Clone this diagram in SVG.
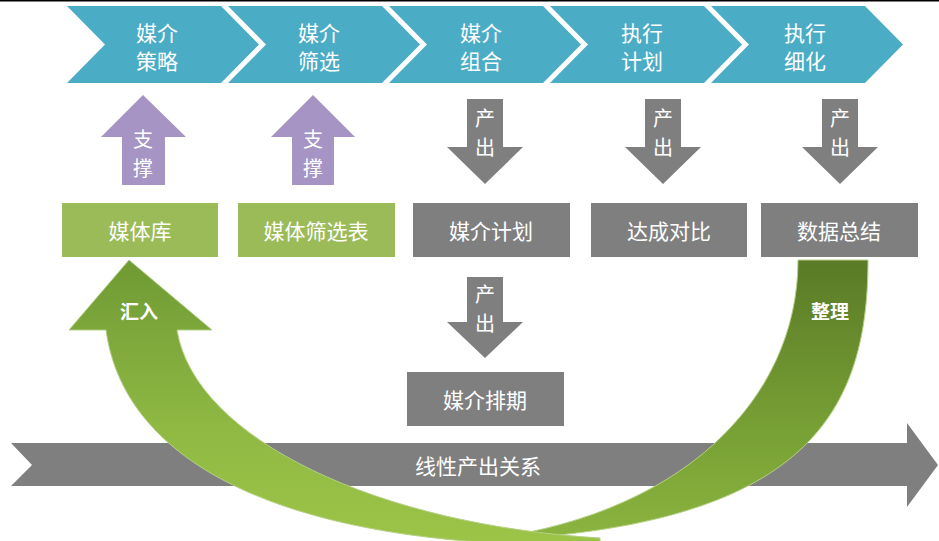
<svg xmlns="http://www.w3.org/2000/svg" width="939" height="541" viewBox="0 0 939 541">
<defs>
<style>
.chev{fill:#4bacc6}
.up{fill:#a594c4}
.down{fill:#7f7f7f}
.gbox{fill:#9bbb59}
.kbox{fill:#7f7f7f}
text{font-family:"Noto Sans CJK SC","Noto Sans",sans-serif;fill:#ffffff;text-anchor:middle;dominant-baseline:central}
.t22{font-size:21px}
.t20{font-size:20px}
.b{font-size:19px;font-weight:bold}
</style>
<linearGradient id="gLeft" x1="0" y1="260" x2="0" y2="541" gradientUnits="userSpaceOnUse">
<stop offset="0" stop-color="#6f9a34"/>
<stop offset="0.6" stop-color="#8fb943"/>
<stop offset="1" stop-color="#9cc447"/>
</linearGradient>
<linearGradient id="gRight" x1="0" y1="260" x2="0" y2="541" gradientUnits="userSpaceOnUse">
<stop offset="0" stop-color="#5a7a26"/>
<stop offset="0.6" stop-color="#77a035"/>
<stop offset="1" stop-color="#8cb43f"/>
</linearGradient>
</defs>
<rect x="0" y="0" width="939" height="541" fill="#ffffff"/>
<rect x="0" y="0" width="939" height="1.5" fill="#000000"/>

<g id="connectors">
<g id="big-arrow">
<polygon class="down" points="11,443 907,443 907,423 938,465 907,507 907,486 11,486 32,465"/>
<text class="t22" x="478" y="465">线性产出关系</text>
</g>
<g id="support1">
<polygon class="up" points="143,95 186,137 165,137 165,185 122,185 122,137 101,137"/>
<text class="t20" x="143" y="138">支</text>
<text class="t20" x="143" y="167">撑</text>
</g>
<g id="support2">
<polygon class="up" points="313,95 355,137 334,137 334,185 292,185 292,137 271,137"/>
<text class="t20" x="313" y="138">支</text>
<text class="t20" x="313" y="167">撑</text>
</g>
<g id="out1">
<polygon class="down" points="467,99 503,99 503,147 523,147 485,184 447,147 467,147"/>
<text class="t20" x="485" y="117">产</text>
<text class="t20" x="485" y="146">出</text>
</g>
<g id="out2">
<polygon class="down" points="645,99 681,99 681,147 701,147 663,184 625,147 645,147"/>
<text class="t20" x="663" y="117">产</text>
<text class="t20" x="663" y="146">出</text>
</g>
<g id="out3">
<polygon class="down" points="822,99 858,99 858,147 878,147 840,184 802,147 822,147"/>
<text class="t20" x="840" y="117">产</text>
<text class="t20" x="840" y="146">出</text>
</g>
<g id="out4">
<polygon class="down" points="467,277 503,277 503,322 523,322 485,358 447,322 467,322"/>
<text class="t20" x="485" y="293">产</text>
<text class="t20" x="485" y="322">出</text>
</g>
<g id="cycle-back">
<path fill="url(#gRight)" stroke="#b5cf85" stroke-width="1" d="M798,260 L868,260 C868,420 800,530 470,541 C680,520 798,400 798,260 Z"/>
<text class="b" x="830" y="310">整理</text>
</g>
<g id="cycle-front">
<path fill="url(#gLeft)" stroke="#b5cf85" stroke-width="1" d="M129,260 L212,330 L177,330 C195,440 380,525 600,538 L600,545 C300,550 125,470 106,330 L69,330 Z"/>
<text class="b" x="139" y="310">汇入</text>
</g>
</g>

<g id="stage1"><polygon class="chev" points="67,6 221,6 259,44.5 221,83 67,83 105,44.5"/><text class="t22" x="157" y="32">媒介</text><text class="t22" x="157" y="60">策略</text></g>
<g id="stage2"><polygon class="chev" points="228,6 382,6 420,44.5 382,83 228,83 266,44.5"/><text class="t22" x="319" y="32">媒介</text><text class="t22" x="319" y="60">筛选</text></g>
<g id="stage3"><polygon class="chev" points="389,6 543,6 581,44.5 543,83 389,83 427,44.5"/><text class="t22" x="481" y="32">媒介</text><text class="t22" x="481" y="60">组合</text></g>
<g id="stage4"><polygon class="chev" points="550,6 704,6 742,44.5 704,83 550,83 588,44.5"/><text class="t22" x="642" y="32">执行</text><text class="t22" x="642" y="60">计划</text></g>
<g id="stage5"><polygon class="chev" points="711,6 865,6 903,44.5 865,83 711,83 749,44.5"/><text class="t22" x="805" y="32">执行</text><text class="t22" x="805" y="60">细化</text></g>

<g id="media-lib"><rect class="gbox" x="62" y="203" width="156" height="54"/><text class="t22" x="140" y="230">媒体库</text></g>
<g id="media-filter"><rect class="gbox" x="238" y="203" width="157" height="54"/><text class="t22" x="316" y="230">媒体筛选表</text></g>
<g id="media-plan"><rect class="kbox" x="413" y="203" width="157" height="54"/><text class="t22" x="491" y="230">媒介计划</text></g>
<g id="compare"><rect class="kbox" x="591" y="203" width="156" height="54"/><text class="t22" x="669" y="230">达成对比</text></g>
<g id="summary"><rect class="kbox" x="761" y="203" width="157" height="54"/><text class="t22" x="839" y="230">数据总结</text></g>
<g id="schedule"><rect class="kbox" x="407" y="372" width="157" height="54"/><text class="t22" x="485" y="399">媒介排期</text></g>
</svg>
